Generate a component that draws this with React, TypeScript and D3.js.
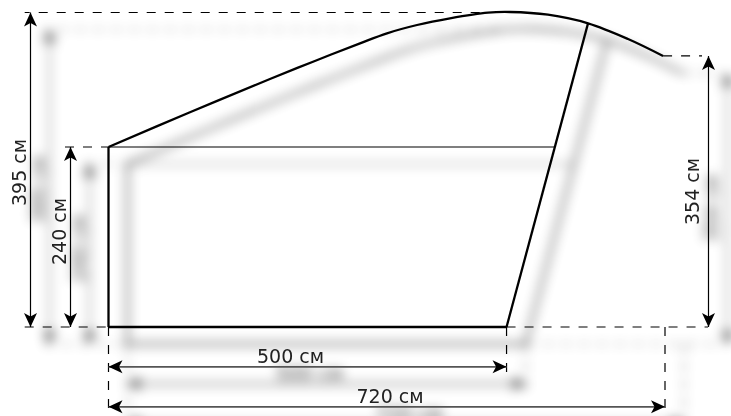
import React from "react";
import * as d3 from "d3";

// Drawing units: nominal centimetres along the width and height of the sketch.
const roofX = [0, 105.4, 208.9, 264.6, 325.4, 360.3, 399.2, 441.8, 491, 519.5, 568.6, 620.4, 672.2, 717.5];
const roofY = [226.1, 269.7, 311.5, 333.2, 356.3, 368.9, 379.3, 387.7, 394.8, 395.6, 392.2, 381.4, 361.7, 340.4];
const doorTopIndex = 11;
const doorBaseX = 515;
const crossbarEndX = 577.7;
const widthLabels = ["500 см", "720 см"];
const heightLabels = ["395 см", "240 см", "354 см"];

const W = 731;
const H = 416;
const x = d3.scaleLinear().domain([0, 720]).range([108.5, 665]);
const y = d3.scaleLinear().domain([0, 395]).range([327, 12.5]);

const roofLine = d3
  .line<number>()
  .x((d) => x(roofX[d]))
  .y((d) => y(roofY[d]))
  .curve(d3.curveCatmullRom.alpha(0.5));

const roofPath = roofLine(roofX.map((_, i) => i)) as string;
const font = "'DejaVu Sans', sans-serif";
const doorTopX = x(roofX[doorTopIndex]);
const doorTopY = y(roofY[doorTopIndex]);
const leftTopY = y(roofY[0]);
const rightTopY = y(roofY[roofY.length - 1]);

function VArrow({ px, y1, y2 }: { px: number; y1: number; y2: number }) {
  return <line x1={px} x2={px} y1={y1} y2={y2} stroke="#000" strokeWidth={1.2} markerStart="url(#a)" markerEnd="url(#a)" />;
}
function HArrow({ py, x1, x2 }: { py: number; x1: number; x2: number }) {
  return <line x1={x1} x2={x2} y1={py} y2={py} stroke="#555" strokeWidth={1.8} markerStart="url(#a)" markerEnd="url(#a)" />;
}

export default function App() {
  const dash = "9 9";
  return (
    <svg width={W} height={H} style={{ position: "absolute", left: 0, top: 0, background: "#fff" }}>
      <defs>
        <marker id="a" viewBox="-16 -8 17 16" refX={0} refY={0} markerWidth={17} markerHeight={16} markerUnits="userSpaceOnUse" orient="auto-start-reverse">
          <path d="M0,0 L-14,-6.5 L-10.5,0 L-14,6.5 Z" fill="#000" />
        </marker>
        <filter id="s" filterUnits="userSpaceOnUse" x={0} y={0} width={W} height={H}>
          <feGaussianBlur in="SourceAlpha" stdDeviation="6" />
          <feOffset dx="19" dy="17" />
          <feComponentTransfer>
            <feFuncA type="linear" slope="0.75" />
          </feComponentTransfer>
          <feMerge>
            <feMergeNode />
            <feMergeNode in="SourceGraphic" />
          </feMerge>
        </filter>
      </defs>
      <g filter="url(#s)">
        <g fill="none" stroke="#000" strokeLinecap="butt">
          <path d={roofPath} strokeWidth={2.3} />
          <line x1={x(0)} x2={x(0)} y1={leftTopY} y2={y(0)} strokeWidth={2.3} />
          <line x1={x(0)} x2={x(doorBaseX)} y1={y(0)} y2={y(0)} strokeWidth={2.3} />
          <line x1={x(doorBaseX)} x2={doorTopX} y1={y(0)} y2={doorTopY} strokeWidth={2.3} />
          <line x1={x(0)} x2={x(crossbarEndX)} y1={leftTopY} y2={leftTopY} strokeWidth={1.2} />
        </g>
        <g stroke="#000" strokeWidth={1.2} strokeDasharray={dash}>
          <line x1={24.7} x2={482} y1={y(395)} y2={y(395)} strokeDashoffset={4} />
          <line x1={65} x2={x(0)} y1={leftTopY} y2={leftTopY} />
          <line x1={24.7} x2={x(0)} y1={y(0)} y2={y(0)} />
          <line x1={x(doorBaseX)} x2={708} y1={y(0)} y2={y(0)} />
          <line x1={x(roofX[13])} x2={702} y1={rightTopY} y2={rightTopY} />
          <line x1={x(0)} x2={x(0)} y1={y(0)} y2={416} />
          <line x1={x(doorBaseX)} x2={x(doorBaseX)} y1={y(0)} y2={373} />
          <line x1={x(720)} x2={x(720)} y1={y(0)} y2={416} />
        </g>
        <VArrow px={30.5} y1={y(395)} y2={y(0)} />
        <VArrow px={70.5} y1={leftTopY} y2={y(0)} />
        <VArrow px={708.5} y1={rightTopY} y2={y(0)} />
        <HArrow py={366.8} x1={x(0)} x2={x(doorBaseX)} />
        <HArrow py={406.8} x1={x(0)} x2={x(720)} />
        <g fill="#222" fontFamily={font} fontSize={19} textAnchor="middle" style={{ whiteSpace: "pre" }}>
          <text transform="translate(26,172.5) rotate(-90)">{heightLabels[0]}</text>
          <text transform="translate(66,231.5) rotate(-90)">{heightLabels[1]}</text>
          <text transform="translate(699,191.5) rotate(-90)">{heightLabels[2]}</text>
          <text x={290.5} y={363}>{widthLabels[0]}</text>
          <text x={390} y={403}>{widthLabels[1]}</text>
        </g>
      </g>
    </svg>
  );
}
